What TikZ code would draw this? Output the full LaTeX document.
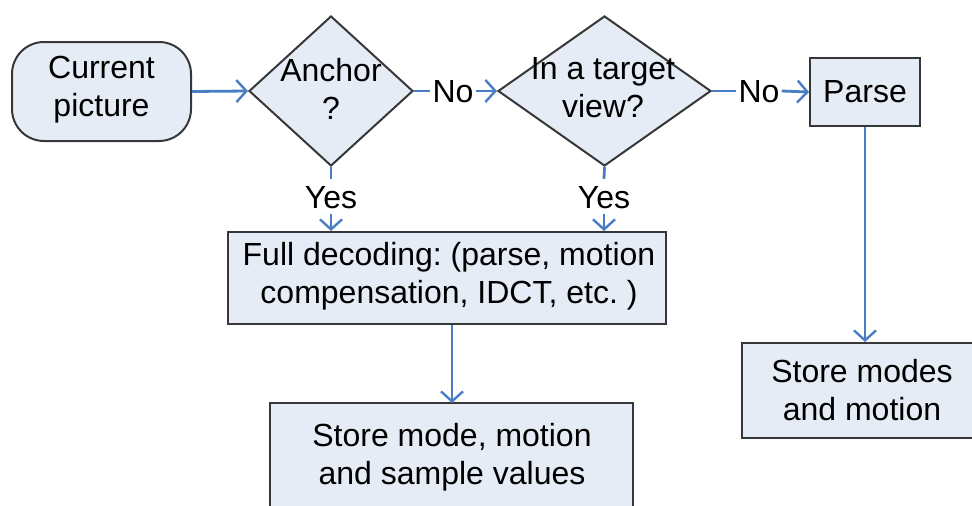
\documentclass[tikz,border=0pt]{standalone}
\usepackage{fontspec}
\setmainfont{Liberation Sans}
\usetikzlibrary{shapes.geometric,arrows.meta}

\definecolor{boxfill}{RGB}{230,236,246}
\definecolor{boxline}{RGB}{55,55,55}
\definecolor{flow}{RGB}{74,126,196}

\tikzset{
  shapebox/.style={draw=boxline, line width=2pt, fill=boxfill, inner sep=0pt},
  procbox/.style={shapebox, rectangle},
  termbox/.style={shapebox, rectangle, rounded corners=32pt},
  decbox/.style={shapebox, diamond},
  txt/.style={font=\fontsize{32}{38}\selectfont, align=center, inner sep=0pt},
  cond/.style={font=\fontsize{32}{38}\selectfont, text height=23pt, text depth=0pt,
               inner xsep=2pt, inner ysep=6pt},
  link/.style={draw=flow, line width=2.8pt},
  arrow/.style={link, -{Straight Barb[length=10pt,width=22pt,line width=2.4pt]}},
}

\begin{document}
\frenchspacing
\begin{tikzpicture}[x=1pt,y=-1pt]
  \clip (0,0) rectangle (972,506);
  \useasboundingbox (0,0) rectangle (972,506);

  % shapes
  \node[termbox, minimum width=179pt, minimum height=99pt] (cur) at (101.5,91.5) {};
  \node[decbox, minimum width=164pt, minimum height=150pt] (anch) at (331,91) {};
  \node[decbox, minimum width=213pt, minimum height=150pt] (tgt) at (604.5,91) {};
  \node[procbox, minimum width=110pt, minimum height=68pt] (parse) at (865,92) {};
  \node[procbox, minimum width=438pt, minimum height=92pt] (full) at (447,278) {};
  \node[procbox, minimum width=363pt, minimum height=140pt] (smv) at (451,473) {};
  \node[procbox, minimum width=250pt, minimum height=95pt] (sm) at (867,390.5) {};

  % texts
  \node[txt] (curT) at (101.5,90) {Current\\picture};
  \node[txt] (anchT) at (331,89) {Anchor\\?};
  \node[txt] (tgtT) at (603,88) {In a target\\view?};
  \node[txt] (parseT) at (865,92) {Parse};
  \node[txt] (fullT) at (449,276) {Full decoding: (parse, motion\\compensation, IDCT, etc. )};
  \node[txt] (smvT) at (452,457) {Store mode, motion\\and sample values};
  \node[txt] (smT) at (862,390) {Store modes\\and motion};

  % branch labels
  \node[cond] (no1) at (453,91) {No};
  \node[cond] (no2) at (759,91) {No};
  \node[cond] (yes1) at (331,196.5) {Yes};
  \node[cond] (yes2) at (604,196.5) {Yes};

  % connectors
  \draw[arrow] (cur.east) -- (anch.west);
  \draw[link] (anch.east) -- (no1.west);
  \draw[arrow] (no1.east) -- (tgt.west);
  \draw[link] (tgt.east) -- (no2.west);
  \draw[arrow] (no2.east) -- (parse.west);
  \draw[link] (anch.south) -- (yes1.north);
  \draw[arrow] (yes1.south) -- (yes1.south |- full.north);
  \draw[link] (tgt.south) -- (yes2.north);
  \draw[arrow] (yes2.south) -- (yes2.south |- full.north);
  \draw[arrow] (full.south -| 452,0) -- (452,403);
  \draw[arrow] (parse.south) -- (parse.south |- sm.north);
\end{tikzpicture}
\end{document}
